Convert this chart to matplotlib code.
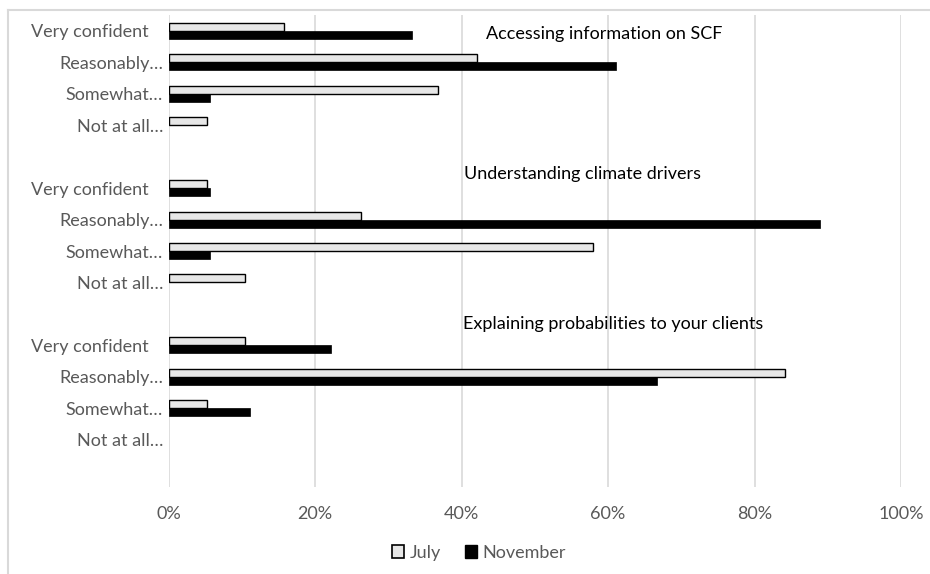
import matplotlib
matplotlib.use("Agg")
import matplotlib.pyplot as plt
from matplotlib.lines import Line2D
from matplotlib.ticker import FuncFormatter

plt.rcParams['font.family'] = ['Lato', 'DejaVu Sans']

categories = ["Very confident   ", "Reasonably\u2026", "Somewhat\u2026", "Not at all\u2026", "",
              "Very confident   ", "Reasonably\u2026", "Somewhat\u2026", "Not at all\u2026", "",
              "Very confident   ", "Reasonably\u2026", "Somewhat\u2026", "Not at all\u2026", ""]
july = [0.158, 0.421, 0.368, 0.053, 0,
        0.053, 0.263, 0.579, 0.105, 0,
        0.105, 0.842, 0.053, 0.0, 0]
november = [0.333, 0.611, 0.056, 0.0, 0,
            0.056, 0.889, 0.056, 0.0, 0,
            0.222, 0.667, 0.111, 0.0, 0]
group_titles = ["Accessing information on SCF", "Understanding climate drivers",
                "Explaining probabilities to your clients"]
xticks = [0, 0.2, 0.4, 0.6, 0.8, 1.0]
series_names = ["July", "November"]

W, H = 930, 574
FS = 13
fig = plt.figure(figsize=(W / 100, H / 100), dpi=100)
ax = fig.add_axes([168.5 / W, 1 - 487 / H, (901 - 168.5) / W, (487 - 15) / H])

pos = list(range(len(categories)))
bh = 0.255
ax.barh([p - bh / 2 for p in pos], july, height=bh, color="#e7e7e7",
        edgecolor="black", linewidth=[1.0 if v > 0 else 0 for v in july],
        label=series_names[0], zorder=3)
ax.barh([p + bh / 2 for p in pos], november, height=bh, color="black",
        edgecolor="black", linewidth=[0.5 if v > 0 else 0 for v in november],
        label=series_names[1], zorder=3)

ax.set_ylim(len(categories) - 0.5, -0.5)
ax.set_xlim(0, 1.0)
ax.set_yticks(pos)
ax.set_yticklabels(categories, fontsize=FS, color="#595959")
ax.set_xticks(xticks)
ax.xaxis.set_major_formatter(FuncFormatter(lambda v, p: f"{v * 100:.0f}%"))
ax.tick_params(axis='x', length=0, pad=14, labelsize=FS, labelcolor="#595959")
ax.tick_params(axis='y', length=0, pad=4)
ax.grid(axis='x', color="#d9d9d9", linewidth=1.2, zorder=0)
for s in ax.spines.values():
    s.set_visible(False)

title_pos = [(0.595, 0.1), (0.565, 4.55), (0.607, 9.32)]
for t, (x, y) in zip(group_titles, title_pos):
    ax.text(x, y, t, ha='center', va='center', fontsize=FS, color="black", zorder=4)

handles = [plt.Rectangle((0, 0), 1, 1, facecolor="#e7e7e7", edgecolor="black", linewidth=1.2),
           plt.Rectangle((0, 0), 1, 1, facecolor="black", edgecolor="black")]
leg = fig.legend(handles, series_names, loc='center', bbox_to_anchor=(479 / W, 1 - 553 / H),
                 ncol=2, frameon=False, fontsize=FS, handlelength=0.7, handleheight=0.7,
                 handletextpad=0.3, columnspacing=1.3)
for txt in leg.get_texts():
    txt.set_color("#595959")

fig.add_artist(Line2D([8 / W, 1], [1 - 10 / H, 1 - 10 / H], color="#d9d9d9", linewidth=1.5,
                      transform=fig.transFigure))
fig.add_artist(Line2D([8 / W, 8 / W], [1 - 10 / H, 0], color="#d9d9d9", linewidth=1.5,
                      transform=fig.transFigure))

fig.savefig("out.png", dpi=100, facecolor="white")
